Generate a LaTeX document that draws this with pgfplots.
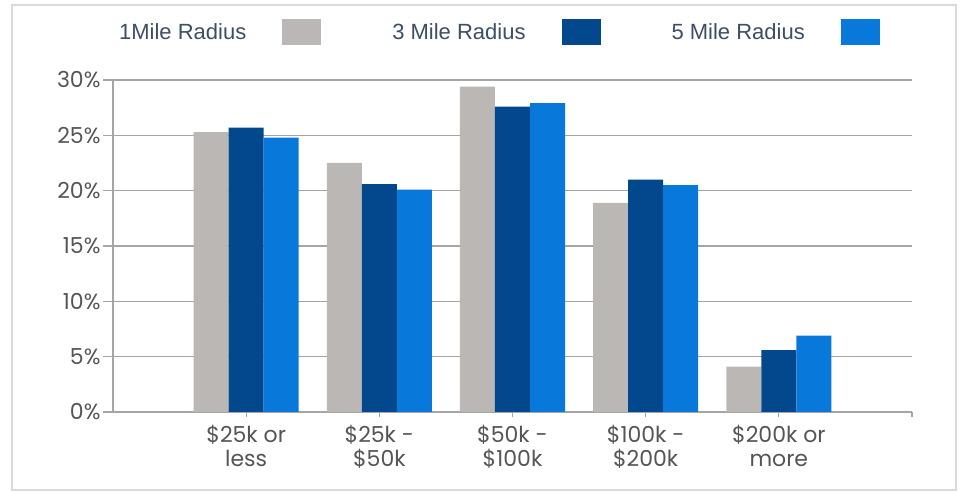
\documentclass[border=0pt]{standalone}
\usepackage{pgfplots}
\pgfplotsset{compat=1.18}
\usepackage{fontspec}
\setmainfont{Liberation Sans}
\newfontfamily\tickfont{Poppins}
\definecolor{cgray}{RGB}{187,183,181}
\definecolor{cdark}{RGB}{3,72,140}
\definecolor{cblue}{RGB}{8,120,218}
\definecolor{gridc}{RGB}{165,165,165}
\definecolor{labc}{RGB}{85,85,85}
\definecolor{legc}{RGB}{60,78,102}
\definecolor{framec}{RGB}{218,218,218}
\begin{document}
\begin{tikzpicture}
\path[use as bounding box] (0,0) rectangle (962bp,492bp);
\draw[line width=1.2bp, framec] (12bp,2bp) rectangle (956bp,487bp);
\begin{axis}[
  at={(113bp,80bp)}, anchor=south west,
  width=799bp, height=332bp, scale only axis,
  xmin=0, xmax=6, ymin=0, ymax=30,
  ybar=0pt, bar width=0.263,
  axis x line*=bottom, axis y line*=left,
  axis line style={gridc, line width=1.3bp},
  ytick={0,5,...,30},
  xtick={1,2,3,4,5,6},
  xticklabels={{\$25k or\\less},{\$25k -\\\$50k},{\$50k -\\\$100k},{\$100k -\\\$200k},{\$200k or\\more},{}},
  ymajorgrids, grid style={gridc, line width=1.3bp},
  tick style={gridc, line width=1.3bp},
  tick align=outside, major tick length=10bp,
  xtick style={/pgfplots/major tick length=5bp},
  /pgf/number format/assume math mode=true,
  yticklabel={\pgfmathprintnumber{\tick}\%},
  yticklabel style={font=\tickfont\fontsize{22bp}{24bp}\selectfont, text=labc, xshift=1bp},
  xticklabel style={font=\tickfont\fontsize{22bp}{24bp}\selectfont, text=labc, align=center},
  legend style={at={(0.96,1.1446)}, anchor=east, draw=none, fill=none, legend columns=3,
    font=\fontsize{22bp}{24bp}\selectfont, text=legc, inner sep=0pt,
    /tikz/every odd column/.append style={column sep=34bp},
    /tikz/every even column/.append style={column sep=69bp}},
  legend plot pos=right,
  legend image code/.code={\draw[#1,draw=none] (0bp,-13bp) rectangle (39bp,13bp);},
]
\addplot[fill=cgray, draw=none] coordinates {(1,25.3) (2,22.5) (3,29.4) (4,18.9) (5,4.1)};
\addplot[fill=cdark, draw=none] coordinates {(1,25.7) (2,20.6) (3,27.6) (4,21.0) (5,5.6)};
\addplot[fill=cblue, draw=none] coordinates {(1,24.8) (2,20.1) (3,27.9) (4,20.5) (5,6.9)};
\legend{1Mile Radius, 3 Mile Radius, 5 Mile Radius}
\end{axis}
\end{tikzpicture}
\end{document}
